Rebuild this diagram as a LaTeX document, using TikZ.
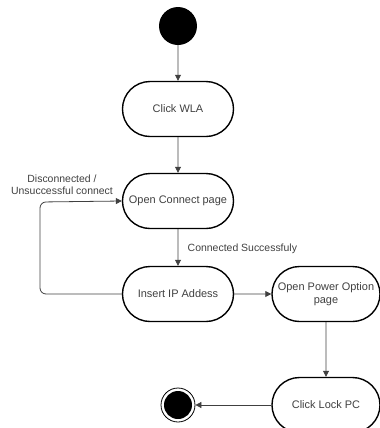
\documentclass[tikz,border=0pt]{standalone}
\usepackage{fontspec}
\setmainfont{Liberation Sans}
\usetikzlibrary{arrows.meta,shapes.misc}

\tikzset{
  state/.style={rounded rectangle, draw, line width=1.4pt, minimum width=113bp, minimum height=55bp, inner sep=1pt, align=center, text=black!75, font=\fontsize{11}{12.5}\selectfont},
  flow/.style={draw=black!75, line width=0.8pt, -{Triangle[length=6bp,width=6bp]}},
  lbl/.style={text=black!75, font=\fontsize{10.5}{12}\selectfont, align=center}
}

\begin{document}
\begin{tikzpicture}[x=1bp,y=-1bp]
\useasboundingbox (0,0) rectangle (380,428);
% start and end
\node[circle, fill=black, minimum size=38bp, inner sep=0pt] (start) at (178,26) {};
\node[circle, draw, line width=0.8pt, minimum size=34bp, inner sep=0pt] (stop) at (178,405) {};
\fill (stop.center) circle (14bp);
% states
\node[state] (wla) at (178,109) {Click WLA};
\node[state] (connect) at (178,201) {Open Connect page};
\node[state] (ip) at (178,294) {Insert IP Addess};
\node[state, minimum width=110bp] (power) at (326,294) {Open Power Option\\page};
\node[state, minimum width=110bp] (lock) at (326,405) {Click Lock PC};
% transitions
\draw[flow] (start) -- (wla);
\draw[flow] (wla) -- (connect);
\draw[flow] (connect) -- node[lbl, right, xshift=6bp, yshift=-1bp] {Connected Successfuly} (ip);
\draw[flow] (ip) -- (power);
\draw[flow] (power) -- (lock);
\draw[flow] (lock) -- (stop);
\draw[flow, rounded corners=6bp] (ip.west) -- (40,294) -- (40,202) -- (connect.west);
\node[lbl] (fail) at (62,185) {Disconnected /\\Unsuccessful connect};
\end{tikzpicture}
\end{document}
